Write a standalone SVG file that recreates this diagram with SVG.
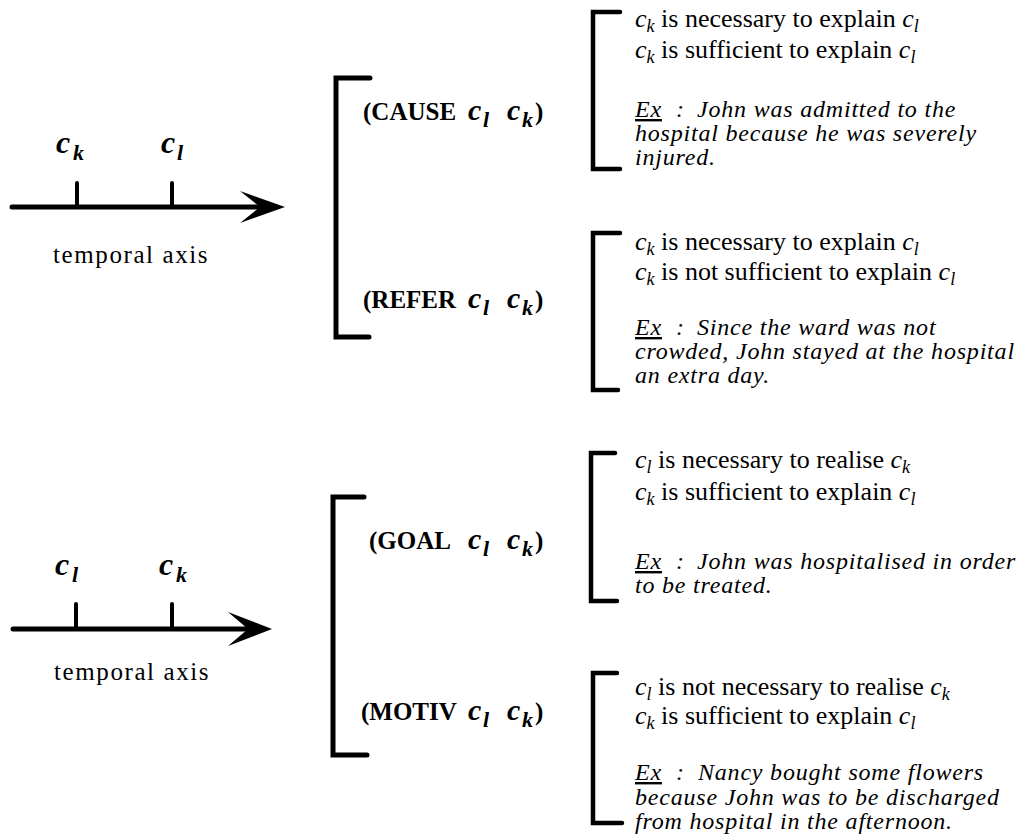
<svg xmlns="http://www.w3.org/2000/svg" width="1024" height="836" viewBox="0 0 1024 836">
<style>
.t{font-family:"Liberation Serif","Times New Roman",serif;fill:#000}
.r{font-size:26px}
.ex{font-size:24px;font-style:italic;letter-spacing:0.8px}
.i{font-style:italic}
.sub{font-size:18px;font-style:italic}
.u{text-decoration:underline}
.lab{font-size:25px;font-weight:bold}
.lc{font-size:30px;font-weight:bold;font-style:italic}
.ls{font-size:22px;font-weight:bold;font-style:italic}
.ac{font-size:32px;font-weight:bold;font-style:italic}
.as{font-size:22px;font-weight:bold;font-style:italic}
.axt{font-size:25px;letter-spacing:1.6px}
.ax{stroke:#000;stroke-width:5;fill:none;stroke-linecap:round}
.tick{stroke:#000;stroke-width:4;fill:none;stroke-linecap:round}
.br{stroke:#000;stroke-width:5;fill:none;stroke-linecap:round;stroke-linejoin:miter}
.brs{stroke:#000;stroke-width:4.5;fill:none;stroke-linecap:round;stroke-linejoin:miter}
</style>
<rect width="1024" height="836" fill="#fff"/>

<g id="axis-top">
<line class="ax" x1="12" y1="207" x2="262" y2="207"/>
<polygon points="285,207 240,191 260,207 240,223" fill="#000"/>
<line class="tick" x1="77" y1="183" x2="77" y2="207"/>
<line class="tick" x1="172" y1="183" x2="172" y2="207"/>
<text class="t"><tspan class="ac" x="56" y="153">c</tspan><tspan class="as" x="73" y="160">k</tspan></text>
<text class="t"><tspan class="ac" x="161" y="153">c</tspan><tspan class="as" x="177" y="160">l</tspan></text>
<text class="t axt" x="53" y="263">temporal axis</text>
</g>

<g id="axis-bottom">
<line class="ax" x1="13" y1="629" x2="250" y2="629"/>
<polygon points="272,629 228,612 248,629 228,646" fill="#000"/>
<line class="tick" x1="76" y1="604" x2="76" y2="629"/>
<line class="tick" x1="172" y1="604" x2="172" y2="629"/>
<text class="t"><tspan class="ac" x="55" y="575">c</tspan><tspan class="as" x="72" y="582">l</tspan></text>
<text class="t"><tspan class="ac" x="159" y="575">c</tspan><tspan class="as" x="176" y="582">k</tspan></text>
<text class="t axt" x="54" y="680">temporal axis</text>
</g>

<g id="connectors">
<path class="br" d="M370,78 H336 V337 H369"/>
<path class="br" d="M364,497 H333 V755 H367"/>
<path class="brs" d="M620,12 H593 V169 H620"/>
<path class="brs" d="M620,233 H593 V390 H618"/>
<path class="brs" d="M615,453 H591 V601 H617"/>
<path class="brs" d="M617,673 H593 V823 H622"/>
</g>

<g id="rel-cause">
<text class="t lab"><tspan x="363" y="120">(CAUSE</tspan><tspan class="lc" x="468" y="120">c</tspan><tspan class="ls" x="483" y="127">l</tspan><tspan class="lc" x="507" y="120">c</tspan><tspan class="ls" x="522" y="127">k</tspan><tspan x="535" y="120">)</tspan></text>
</g>
<g id="rel-refer">
<text class="t lab"><tspan x="363" y="308">(REFER</tspan><tspan class="lc" x="468" y="308">c</tspan><tspan class="ls" x="483" y="315">l</tspan><tspan class="lc" x="507" y="308">c</tspan><tspan class="ls" x="522" y="315">k</tspan><tspan x="535" y="308">)</tspan></text>
</g>
<g id="rel-goal">
<text class="t lab"><tspan x="369" y="549">(GOAL</tspan><tspan class="lc" x="468" y="549">c</tspan><tspan class="ls" x="483" y="556">l</tspan><tspan class="lc" x="507" y="549">c</tspan><tspan class="ls" x="522" y="556">k</tspan><tspan x="535" y="549">)</tspan></text>
</g>
<g id="rel-motiv">
<text class="t lab"><tspan x="361" y="720">(MOTIV</tspan><tspan class="lc" x="468" y="720">c</tspan><tspan class="ls" x="483" y="727">l</tspan><tspan class="lc" x="507" y="720">c</tspan><tspan class="ls" x="522" y="727">k</tspan><tspan x="535" y="720">)</tspan></text>
</g>

<g id="desc-cause">
<text class="t r" x="635" y="27"><tspan class="i">c</tspan><tspan class="sub" dy="5">k</tspan><tspan dy="-5"> is necessary to explain </tspan><tspan class="i">c</tspan><tspan class="sub" dy="5">l</tspan></text>
<text class="t r" x="635" y="58"><tspan class="i">c</tspan><tspan class="sub" dy="5">k</tspan><tspan dy="-5"> is sufficient to explain </tspan><tspan class="i">c</tspan><tspan class="sub" dy="5">l</tspan></text>
<text class="t ex" y="117"><tspan class="u" x="635">Ex</tspan><tspan x="676">:</tspan><tspan x="697">John was admitted to the</tspan></text>
<text class="t ex" x="635" y="141">hospital because he was severely</text>
<text class="t ex" x="635" y="165">injured.</text>
</g>

<g id="desc-refer">
<text class="t r" x="635" y="250"><tspan class="i">c</tspan><tspan class="sub" dy="5">k</tspan><tspan dy="-5"> is necessary to explain </tspan><tspan class="i">c</tspan><tspan class="sub" dy="5">l</tspan></text>
<text class="t r" x="635" y="280"><tspan class="i">c</tspan><tspan class="sub" dy="5">k</tspan><tspan dy="-5"> is not sufficient to explain </tspan><tspan class="i">c</tspan><tspan class="sub" dy="5">l</tspan></text>
<text class="t ex" y="335"><tspan class="u" x="635">Ex</tspan><tspan x="676">:</tspan><tspan x="697">Since the ward was not</tspan></text>
<text class="t ex" x="635" y="359">crowded, John stayed at the hospital</text>
<text class="t ex" x="635" y="383">an extra day.</text>
</g>

<g id="desc-goal">
<text class="t r" x="635" y="468"><tspan class="i">c</tspan><tspan class="sub" dy="5">l</tspan><tspan dy="-5"> is necessary to realise </tspan><tspan class="i">c</tspan><tspan class="sub" dy="5">k</tspan></text>
<text class="t r" x="635" y="500"><tspan class="i">c</tspan><tspan class="sub" dy="5">k</tspan><tspan dy="-5"> is sufficient to explain </tspan><tspan class="i">c</tspan><tspan class="sub" dy="5">l</tspan></text>
<text class="t ex" y="569"><tspan class="u" x="635">Ex</tspan><tspan x="676">:</tspan><tspan x="697">John was hospitalised in order</tspan></text>
<text class="t ex" x="635" y="593">to be treated.</text>
</g>

<g id="desc-motiv">
<text class="t r" x="635" y="695"><tspan class="i">c</tspan><tspan class="sub" dy="5">l</tspan><tspan dy="-5"> is not necessary to realise </tspan><tspan class="i">c</tspan><tspan class="sub" dy="5">k</tspan></text>
<text class="t r" x="635" y="724"><tspan class="i">c</tspan><tspan class="sub" dy="5">k</tspan><tspan dy="-5"> is sufficient to explain </tspan><tspan class="i">c</tspan><tspan class="sub" dy="5">l</tspan></text>
<text class="t ex" y="780"><tspan class="u" x="635">Ex</tspan><tspan x="676">:</tspan><tspan x="698">Nancy bought some flowers</tspan></text>
<text class="t ex" x="635" y="805">because John was to be discharged</text>
<text class="t ex" x="635" y="829">from hospital in the afternoon.</text>
</g>
</svg>
